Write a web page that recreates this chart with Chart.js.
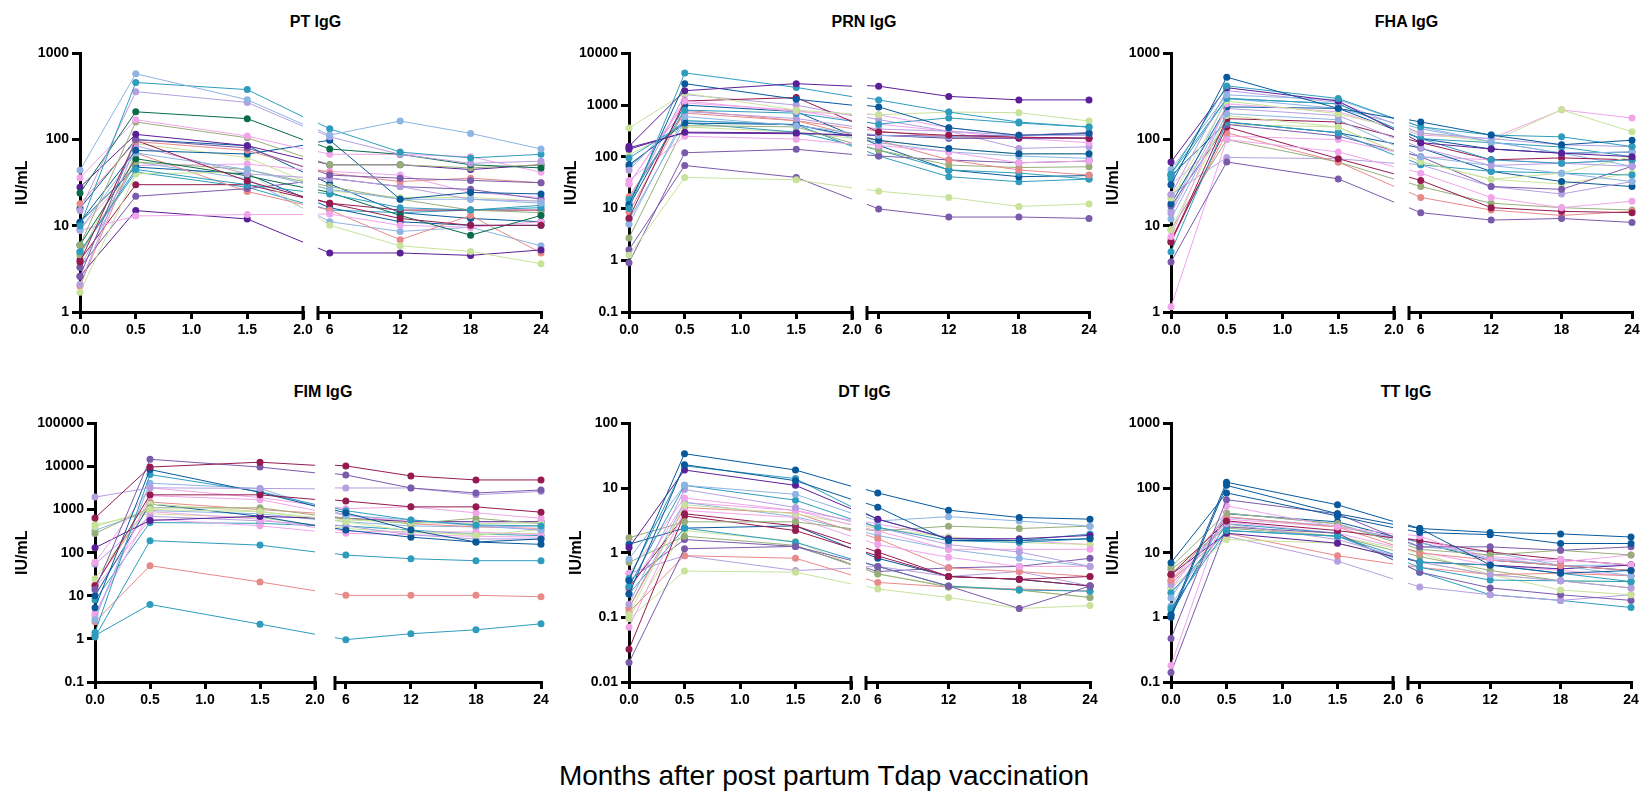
<!DOCTYPE html>
<html>
<head>
<meta charset="utf-8">
<script src="https://cdn.jsdelivr.net/npm/chart.js@4.4.1/dist/chart.umd.min.js"></script>
<style>
  body { margin: 0; background: #fff; }
  #wrap { position: relative; width: 1643px; height: 793px; overflow: hidden; font-family: 'Liberation Sans', Arial, sans-serif; }
  #wrap canvas { position: absolute; }
  .ttl { position: absolute; font-weight: bold; font-size: 16px; transform: translate(-50%, -50%); white-space: nowrap; }
  #xlab { position: absolute; left: 824px; top: 776px; font-size: 28px; transform: translate(-50%, -50%); white-space: nowrap; }
</style>
</head>
<body>
<div id="wrap"><div id="xlab">Months after post partum Tdap vaccination</div></div>
<script>
// sampling times (months) and axis ticks
const months = [0, 0.5, 1.5, 6, 12, 18, 24];
const leftTicks = [0, 0.5, 1, 1.5, 2];
const rightTicks = [6, 12, 18, 24];
const ptTicks = [1, 10, 100, 1000];
const prnTicks = [0.1, 1, 10, 100, 1000, 10000];
const fhaTicks = [1, 10, 100, 1000];
const fimTicks = [0.1, 1, 10, 100, 1000, 10000, 100000];
const dtTicks = [0.01, 0.1, 1, 10, 100];
const ttTicks = [0.1, 1, 10, 100, 1000];

// IU/mL per participant at each time in months[]
const ptIgG = [
  [44, 580, 290, 110, 160, 115, 76],
  [10, 460, 380, 130, 70, 60, 66],
  [15, 360, 270, 105, 66, 52, 55],
  [24, 210, 175, 76, 66, 50, 46],
  [36, 170, 110, 66, 66, 62, 41],
  [6, 160, 105, 50, 50, 46, 50],
  [28, 115, 85, 50, 50, 44, 50],
  [2.6, 100, 80, 38, 35, 33, 31],
  [18, 95, 75, 40, 32, 35, 31],
  [3.8, 98, 33, 18, 12, 10, 10],
  [11, 75, 68, 96, 20, 24, 23],
  [9, 70, 45, 26, 20, 20, 18],
  [5, 45, 30, 23, 16, 15, 16],
  [2.1, 85, 40, 35, 28, 20, 19],
  [6, 60, 38, 24, 13, 7.7, 13],
  [8.8, 13, 13.5, 13.5, 10, 9.5, 11],
  [4.6, 55, 45, 28, 20, 15, 14],
  [1.7, 40, 42, 10, 5.8, 5, 3.6],
  [2.6, 15, 12, 4.8, 4.8, 4.5, 5.2],
  [3.3, 22, 27, 35, 28, 26, 20],
  [2, 70, 25, 15, 6.8, 13, 4.8],
  [4, 30, 30, 18, 15, 15, 15],
  [11, 48, 40, 16, 11, 10, 10],
  [3.3, 55, 35, 11, 8.5, 9.5, 5.8],
  [5, 42, 28, 15, 14, 15, 17],
  [4.5, 90, 62, 25, 21, 21, 19],
  [9, 50, 52, 42, 38, 24, 21],
  [16, 100, 85, 30, 14, 12, 11]
];
const prnIgG = [
  [160, 1900, 2600, 2200, 1400, 1200, 1200],
  [10, 4200, 2200, 1200, 700, 450, 360],
  [12, 2600, 1300, 880, 350, 250, 270],
  [360, 1700, 800, 620, 700, 680, 470],
  [30, 1200, 750, 620, 350, 250, 270],
  [6.5, 1200, 1400, 290, 250, 230, 220],
  [15, 800, 700, 410, 540, 430, 360],
  [55, 750, 550, 330, 300, 250, 250],
  [5, 600, 400, 250, 230, 250, 270],
  [140, 300, 290, 250, 220, 220, 220],
  [70, 450, 420, 200, 140, 110, 110],
  [35, 250, 220, 160, 120, 74, 80],
  [17, 700, 500, 200, 84, 54, 43],
  [2.7, 400, 380, 130, 67, 60, 62],
  [1.25, 40, 36, 21, 16, 10.7, 12],
  [1.6, 68, 40, 9.6, 6.7, 6.7, 6.3],
  [0.9, 120, 140, 100, 84, 74, 80],
  [95, 450, 300, 130, 54, 47, 36],
  [11, 1000, 750, 160, 54, 40, 42],
  [65, 500, 420, 100, 40, 32, 36],
  [110, 380, 300, 200, 140, 110, 110],
  [8.5, 800, 500, 300, 230, 230, 220],
  [150, 290, 280, 250, 240, 250, 280],
  [30, 1100, 800, 410, 300, 220, 180],
  [6, 500, 420, 180, 120, 100, 90],
  [13, 1600, 1000, 500, 300, 140, 150]
];
const fhaIgG = [
  [30, 530, 230, 156, 110, 85, 96],
  [40, 420, 300, 137, 110, 105, 81],
  [55, 400, 280, 90, 76, 68, 62],
  [45, 330, 290, 137, 92, 68, 70],
  [23, 370, 270, 116, 100, 85, 81],
  [35, 300, 260, 100, 57, 52, 57],
  [21, 280, 200, 116, 92, 215, 120],
  [7.5, 260, 210, 110, 100, 215, 173],
  [18, 240, 230, 100, 76, 68, 70],
  [14, 230, 190, 78, 49, 52, 48],
  [12, 200, 170, 62, 49, 40, 32],
  [9, 190, 140, 54, 34, 40, 62],
  [6.5, 175, 160, 90, 57, 60, 57],
  [5, 160, 120, 50, 42, 40, 38],
  [17, 150, 110, 62, 28, 26, 48],
  [3.8, 55, 35, 14, 11.5, 12, 10.8],
  [1.15, 100, 72, 40, 21, 16, 19],
  [6.5, 140, 60, 33, 16, 14.5, 14],
  [7, 120, 55, 21, 15, 13, 14.5],
  [9, 100, 55, 28, 18, 16, 15],
  [23, 62, 60, 50, 28, 23, 32],
  [38, 160, 120, 78, 42, 32, 28],
  [40, 300, 260, 100, 90, 80, 62],
  [21, 150, 140, 54, 34, 30, 40],
  [30, 110, 100, 62, 57, 52, 57],
  [15, 300, 230, 130, 92, 68, 48]
];
const fimIgG = [
  [640, 9700, 12600, 9700, 5700, 4600, 4600],
  [14, 14700, 9700, 6000, 3000, 2300, 2700],
  [1950, 3200, 3100, 3000, 3000, 2100, 2500],
  [17, 2200, 2200, 1500, 1100, 1100, 830],
  [5.3, 8500, 2500, 800, 320, 170, 150],
  [1.4, 6500, 2600, 900, 550, 420, 400],
  [2.8, 4100, 3100, 700, 550, 400, 320],
  [60, 3200, 1900, 1000, 1100, 800, 600],
  [400, 1000, 900, 550, 480, 450, 470],
  [280, 1100, 1100, 600, 450, 600, 450],
  [130, 560, 700, 600, 500, 500, 500],
  [3.5, 2100, 1700, 700, 500, 420, 320],
  [25, 1350, 900, 500, 300, 240, 330],
  [10, 1350, 700, 320, 220, 170, 200],
  [4, 900, 600, 300, 290, 290, 250],
  [18, 1500, 1000, 750, 450, 380, 350],
  [1.1, 190, 150, 85, 70, 63, 63],
  [2.5, 50, 21, 10, 10, 10, 9.3],
  [1.2, 6.3, 2.2, 0.95, 1.3, 1.6, 2.2],
  [330, 950, 800, 500, 400, 380, 400],
  [55, 700, 550, 400, 250, 200, 200],
  [450, 800, 650, 350, 280, 260, 270],
  [15, 600, 420, 270, 250, 230, 220],
  [8, 500, 480, 400, 320, 260, 240]
];
const dtIgG = [
  [0.37, 34, 19, 8.1, 4.4, 3.4, 3.2],
  [0.23, 23, 13, 4.9, 1.5, 1.5, 1.6],
  [1.2, 19, 11, 3.2, 1.6, 1.6, 1.8],
  [0.4, 22, 14, 3.2, 1.6, 1.5, 1.9],
  [0.8, 11, 8, 3.0, 3.5, 3.0, 2.5],
  [0.3, 11, 6.5, 2.4, 1.5, 1.4, 1.6],
  [0.16, 9.5, 5, 2.4, 1.3, 1.0, 0.6],
  [0.48, 7, 4.5, 2.1, 1.1, 1.1, 1.1],
  [0.11, 5.5, 4, 2.3, 1.7, 1.4, 1.3],
  [1.7, 3, 3, 2.1, 2.5, 2.3, 2.5],
  [0.032, 4, 2.6, 1.0, 0.42, 0.38, 0.42],
  [0.02, 1.15, 1.25, 0.6, 0.3, 0.135, 0.3],
  [0.07, 4.5, 3.5, 1.3, 0.83, 0.6, 0.6],
  [0.095, 0.52, 0.5, 0.27, 0.2, 0.135, 0.15],
  [0.14, 5, 4.1, 1.6, 0.57, 0.5, 0.42],
  [0.29, 3.7, 2.2, 0.87, 0.42, 0.38, 0.3],
  [0.23, 2.4, 1.45, 0.6, 0.3, 0.26, 0.25],
  [0.14, 6, 3.6, 1.8, 1.1, 0.8, 0.6],
  [0.71, 1.8, 1.3, 0.46, 0.29, 0.26, 0.2],
  [0.12, 0.9, 0.82, 0.34, 0.29, 0.27, 0.25],
  [0.48, 0.9, 0.53, 0.6, 0.42, 0.5, 0.3],
  [1.35, 2.4, 2.6, 0.8, 0.42, 0.38, 0.3],
  [0.26, 6, 4.5, 2.7, 1.7, 1.5, 1.3],
  [0.1, 2.2, 1.5, 0.46, 0.3, 0.26, 0.2],
  [0.37, 1.6, 1.25, 0.5, 0.57, 0.6, 0.8]
];
const ttIgG = [
  [1.1, 123, 55, 23, 20, 19, 17],
  [7, 84, 37, 20, 18.5, 13.5, 13.5],
  [1.0, 110, 40, 23, 6.3, 4.7, 5.2],
  [0.47, 66, 40, 12, 12, 10.6, 12],
  [0.18, 53, 25, 17.5, 7.5, 7.7, 6.3],
  [6, 41, 28, 11, 9, 10.6, 9],
  [4.6, 31, 22, 15, 10, 7.7, 6.3],
  [3.7, 36, 25, 9.7, 7.5, 6.2, 5.2],
  [2, 41, 28, 12, 10, 6.2, 4.3],
  [2.4, 22, 18, 7, 6.3, 4.7, 3.5],
  [4.6, 20, 14, 7, 6.3, 5.5, 6.3],
  [3.2, 28, 16, 7, 4.5, 3.6, 2.8],
  [1.4, 22, 18, 5.8, 3.7, 3.6, 3.5],
  [2.8, 16, 14, 7, 4.5, 2.6, 2.2],
  [0.14, 25, 20, 4.9, 2.8, 2.2, 1.8],
  [3.7, 20, 9, 5.8, 4.5, 4.7, 4.3],
  [2.4, 18, 7.4, 2.9, 2.2, 1.8, 2.2],
  [1.3, 28, 20, 4.9, 2.2, 1.8, 1.4],
  [5.5, 24, 18, 8.5, 5.2, 3.6, 2.8],
  [3.5, 30, 20, 10, 6.3, 5.2, 4.3],
  [1.5, 35, 26, 14, 8, 6.2, 6.3],
  [4.4, 26, 18, 9.7, 4.5, 3.6, 3.5],
  [1.1, 40, 30, 14, 7.5, 6.2, 5.2],
  [2.8, 33, 25, 15, 8.5, 7, 9]
];

// line colours, one key per participant row above
const palette = {
  lb: '#8db4e2', te: '#2e9dbd', la: '#b59fe0', dg: '#0a6b4b',
  pk: '#f0a5ea', sg: '#98ae7a', lg: '#c8e29a', dp: '#5b1f98',
  mp: '#7a5bab', sa: '#e88a8a', ma: '#951a50', nv: '#08599b'
};
const ptColors = ['lb','te','la','dg','pk','sg','dp','mp','sa','ma','nv','lb','te','la','dg','pk','sg','lg','dp','mp','sa','ma','nv','lb','te','lg','pk','nv'];
const prnColors = ['dp','te','nv','lg','pk','ma','te','la','lb','dp','nv','pk','sa','sg','lg','mp','mp','te','nv','te','lg','sa','dp','pk','lb','la'];
const fhaColors = ['nv','te','dp','lb','la','te','lg','pk','nv','la','lb','lg','ma','te','mp','mp','pk','ma','sa','sg','la','nv','te','lg','pk','lb'];
const fimColors = ['ma','mp','la','ma','nv','te','lb','pk','lg','sg','dp','pk','lg','nv','pk','sa','te','sa','te','lb','la','lg','pk','te'];
const dtColors = ['nv','nv','dp','te','lb','te','la','pk','lg','sg','ma','mp','pk','lg','sa','ma','te','lb','sg','sa','la','nv','pk','lg','mp'];
const ttColors = ['nv','nv','nv','mp','pk','sg','ma','sa','lb','te','dp','la','te','lg','mp','sa','la','te','sg','pk','lb','lg','nv','pk'];

// panel layout (pixels): x0 = 0 months, x1 = 2 months, x2 = 5 months, x3 = 24 months
const panels = [
  { title: 'PT IgG',  rows: ptIgG,  colors: ptColors,  ticks: ptTicks,  x0: 80,   x1: 303,  x2: 318,  x3: 541,  top: 52,  bottom: 312, yw: 67, ty: 22 },
  { title: 'PRN IgG', rows: prnIgG, colors: prnColors, ticks: prnTicks, x0: 629,  x1: 852,  x2: 867,  x3: 1089, top: 52,  bottom: 312, yw: 67, ty: 22 },
  { title: 'FHA IgG', rows: fhaIgG, colors: fhaColors, ticks: fhaTicks, x0: 1171, x1: 1394, x2: 1409, x3: 1632, top: 52,  bottom: 312, yw: 67, ty: 22 },
  { title: 'FIM IgG', rows: fimIgG, colors: fimColors, ticks: fimTicks, x0: 95,   x1: 315,  x2: 335,  x3: 541,  top: 422, bottom: 682, yw: 82, ty: 392 },
  { title: 'DT IgG',  rows: dtIgG,  colors: dtColors,  ticks: dtTicks,  x0: 629,  x1: 851,  x2: 866,  x3: 1090, top: 422, bottom: 682, yw: 62, ty: 392 },
  { title: 'TT IgG',  rows: ttIgG,  colors: ttColors,  ticks: ttTicks,  x0: 1171, x1: 1393, x2: 1408, x3: 1631, top: 422, bottom: 682, yw: 67, ty: 392 }
];
const leftMax = 2, rightMin = 5, rightMax = 24;

Chart.defaults.font.family = "'Liberation Sans', Arial, sans-serif";
Chart.defaults.color = '#000';

const tickFont = { size: 14, weight: 'bold' };
const padTop = 10, xAxisH = 34, padSide = 14;

// broken axis: a time on the other side of the break is moved so the
// connecting segment runs straight across the gap, as in the original figure
function leftX(p, m) {
  if (m <= leftMax) return m;
  const lr = (p.x1 - p.x0) / leftMax, rr = (p.x3 - p.x2) / (rightMax - rightMin);
  return leftMax + (p.x2 + (m - rightMin) * rr - p.x1) / lr;
}
function rightX(p, m) {
  if (m >= rightMin) return m;
  const lr = (p.x1 - p.x0) / leftMax, rr = (p.x3 - p.x2) / (rightMax - rightMin);
  return rightMin - (p.x2 - (p.x0 + m * lr)) / rr;
}

// little vertical bar marking the axis break
const breakCaps = {
  id: 'breakCaps',
  afterDraw(chart, args, opts) {
    const a = chart.chartArea, c = chart.ctx;
    const x = opts.side === 'right' ? a.right : a.left;
    c.save();
    c.strokeStyle = '#000';
    c.lineWidth = 3;
    c.beginPath();
    c.moveTo(x, a.bottom - 6);
    c.lineTo(x, a.bottom + 8);
    c.stroke();
    c.restore();
  }
};

const wrap = document.getElementById('wrap');

function addCanvas(left, top, w, h) {
  const cv = document.createElement('canvas');
  cv.width = w; cv.height = h;
  cv.style.left = left + 'px'; cv.style.top = top + 'px';
  cv.style.width = w + 'px'; cv.style.height = h + 'px';
  wrap.appendChild(cv);
  return cv;
}

function makeDatasets(p, xmap, clip) {
  return p.rows.map((vals, i) => {
    const col = palette[p.colors[i]];
    return {
      data: months.map((m, j) => ({ x: xmap(p, m), y: vals[j] })),
      borderColor: col,
      backgroundColor: col,
      borderWidth: 1,
      pointRadius: 3.5,
      pointBorderWidth: 0,
      pointBackgroundColor: col,
      tension: 0,
      clip: clip
    };
  });
}

function axisCommon() {
  return {
    border: { display: true, width: 3, color: '#000' },
    grid: { drawOnChartArea: false, drawTicks: true, tickLength: 7, tickWidth: 3, tickColor: '#000', lineWidth: 3, color: '#000' }
  };
}

panels.forEach(p => {
  const plotH = p.bottom - p.top;
  const yMin = p.ticks[0], yMax = p.ticks[p.ticks.length - 1];

  // left part: 0 to 2 months, with y axis
  const lw = p.yw + (p.x1 - p.x0) + padSide;
  const lc = addCanvas(p.x0 - p.yw, p.top - padTop, lw, padTop + plotH + xAxisH);
  new Chart(lc, {
    type: 'line',
    data: { datasets: makeDatasets(p, leftX, { left: 8, top: 8, right: 0, bottom: 8 }) },
    options: {
      responsive: false, animation: false,
      layout: { padding: { left: 0, top: padTop, right: padSide, bottom: 0 } },
      plugins: { legend: { display: false }, tooltip: { enabled: false }, breakCaps: { side: 'right' } },
      scales: {
        x: Object.assign(axisCommon(), {
          type: 'linear', min: 0, max: leftMax,
          afterBuildTicks: s => { s.ticks = leftTicks.map(v => ({ value: v })); },
          afterFit: s => { s.height = xAxisH; },
          ticks: { font: tickFont, padding: 3, maxRotation: 0, autoSkip: false, callback: v => Number(v).toFixed(1) }
        }),
        y: Object.assign(axisCommon(), {
          type: 'logarithmic', min: yMin, max: yMax,
          afterBuildTicks: s => { s.ticks = p.ticks.map(v => ({ value: v })); },
          afterFit: s => { s.width = p.yw; },
          grid: { drawOnChartArea: false, drawTicks: true, tickLength: 8, tickWidth: 3, tickColor: '#000', lineWidth: 3, color: '#000' },
          ticks: { font: tickFont, padding: 3, autoSkip: false, callback: v => String(v) },
          title: { display: true, text: 'IU/mL', font: { size: 16, weight: 'bold' }, padding: { top: 0, bottom: 0 } }
        })
      }
    },
    plugins: [breakCaps]
  });

  // right part: 6 to 24 months, no y axis
  const rw = padSide + (p.x3 - p.x2) + padSide;
  const rc = addCanvas(p.x2 - padSide, p.top - padTop, rw, padTop + plotH + xAxisH);
  new Chart(rc, {
    type: 'line',
    data: { datasets: makeDatasets(p, rightX, { left: 0, top: 8, right: 8, bottom: 8 }) },
    options: {
      responsive: false, animation: false,
      layout: { padding: { left: padSide, top: padTop, right: padSide, bottom: 0 } },
      plugins: { legend: { display: false }, tooltip: { enabled: false }, breakCaps: { side: 'left' } },
      scales: {
        x: Object.assign(axisCommon(), {
          type: 'linear', min: rightMin, max: rightMax,
          afterBuildTicks: s => { s.ticks = rightTicks.map(v => ({ value: v })); },
          afterFit: s => { s.height = xAxisH; },
          ticks: { font: tickFont, padding: 3, maxRotation: 0, autoSkip: false, callback: v => String(v) }
        }),
        y: { type: 'logarithmic', min: yMin, max: yMax, display: false }
      }
    },
    plugins: [breakCaps]
  });

  const t = document.createElement('div');
  t.className = 'ttl';
  t.textContent = p.title;
  t.style.left = ((p.x0 + p.x3) / 2 + 5) + 'px';
  t.style.top = p.ty + 'px';
  wrap.appendChild(t);
});
</script>
</body>
</html>
